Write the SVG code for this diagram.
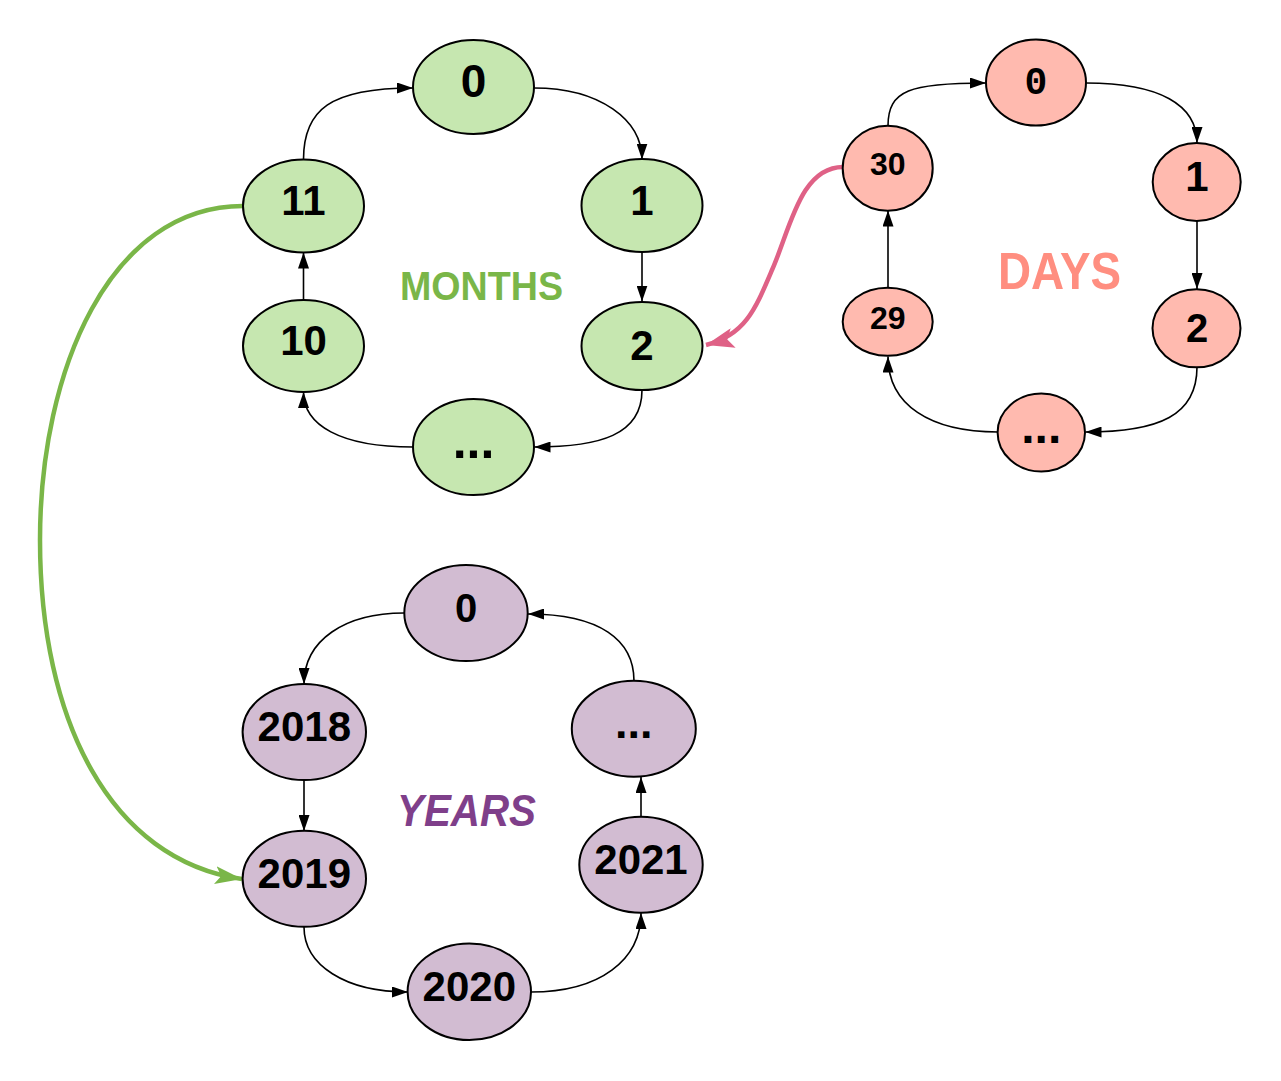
<svg xmlns="http://www.w3.org/2000/svg" width="1281" height="1081" viewBox="0 0 1281 1081">
<defs>
<style>
.n{stroke:#000;stroke-width:2}
.m{fill:#c6e7b0}
.d{fill:#ffbaaf}
.y{fill:#d2bcd2}
.t{font-family:"Liberation Sans",Arial,sans-serif;font-weight:bold;fill:#000;text-anchor:middle}
.e{fill:none;stroke:#000;stroke-width:1.6}
.lbl{font-family:"Liberation Sans",Arial,sans-serif;font-weight:bold}
</style>
<marker id="ab" markerUnits="userSpaceOnUse" markerWidth="16" markerHeight="11" refX="16" refY="5.5" orient="auto">
<path d="M0,0 L16,5.5 L0,11 z" fill="#000"/>
</marker>
<marker id="ag" markerUnits="userSpaceOnUse" markerWidth="27" markerHeight="18" refX="27" refY="9" orient="auto">
<path d="M0,0 L27,9 L0,18 L6,9 z" fill="#7ab648"/>
</marker>
<marker id="ap" markerUnits="userSpaceOnUse" markerWidth="28" markerHeight="20" refX="28" refY="10" orient="auto">
<path d="M0,0 L28,10 L0,20 L6,10 z" fill="#df6186"/>
</marker>
</defs>
<rect width="1281" height="1081" fill="#fff"/>

<g id="connectors">
<path class="e" marker-end="url(#ab)" d="M303.5,159.5 C303.5,110 330,88 413,88"/>
<path class="e" marker-end="url(#ab)" d="M534,88 C600,88 642,120 642,159.5"/>
<path class="e" marker-end="url(#ab)" d="M642,252 L642,301.5"/>
<path class="e" marker-end="url(#ab)" d="M642,390 C642,435 600,447 534.5,447"/>
<path class="e" marker-end="url(#ab)" d="M413,447 C340,447 303.5,425 303.5,392"/>
<path class="e" marker-end="url(#ab)" d="M303.5,300 L303.5,252.5"/>

<path class="e" marker-end="url(#ab)" d="M888,126 C888,90 910,83 986,83"/>
<path class="e" marker-end="url(#ab)" d="M1086,83 C1160,83 1197,105 1197,143"/>
<path class="e" marker-end="url(#ab)" d="M1197,221 L1197,289"/>
<path class="e" marker-end="url(#ab)" d="M1197,367 C1197,415 1160,432 1085.5,432"/>
<path class="e" marker-end="url(#ab)" d="M998,432 C930,432 888,405 888,356.5"/>
<path class="e" marker-end="url(#ab)" d="M888,288 L888,210.5"/>

<path class="e" marker-end="url(#ab)" d="M404,613 C345,613 304,640 304,684"/>
<path class="e" marker-end="url(#ab)" d="M304,780 L304,831"/>
<path class="e" marker-end="url(#ab)" d="M304,927 C304,965 345,992 408,992"/>
<path class="e" marker-end="url(#ab)" d="M531,992 C600,992 641,960 641,913"/>
<path class="e" marker-end="url(#ab)" d="M641,817 L641,777"/>
<path class="e" marker-end="url(#ab)" d="M634,681 C634,640 600,614 528,614"/>

<path fill="none" stroke="#7ab648" stroke-width="4.5" marker-end="url(#ag)" d="M243,206 C110,206 40,370 40,540 C40,720 110,860 242,879"/>
<path fill="none" stroke="#df6186" stroke-width="4.5" marker-end="url(#ap)" d="M843,167 C800,167 790,230 772,270 C755,310 745,335 706,345"/>
</g>

<g id="m0"><ellipse class="n m" cx="473.5" cy="87" rx="60.5" ry="47"/><text class="t" x="473.5" y="97" font-size="46">0</text></g>
<g id="m1"><ellipse class="n m" cx="642" cy="205.5" rx="60.5" ry="46.5"/><text class="t" x="642" y="215" font-size="42">1</text></g>
<g id="m2"><ellipse class="n m" cx="642" cy="346" rx="60.5" ry="44"/><text class="t" x="642" y="360" font-size="42">2</text></g>
<g id="mdots"><ellipse class="n m" cx="473.5" cy="447" rx="60.5" ry="48"/><text class="t" x="473.5" y="458" font-size="50">...</text></g>
<g id="m10"><ellipse class="n m" cx="303.5" cy="346" rx="60.5" ry="46"/><text class="t" x="303.5" y="355" font-size="42">10</text></g>
<g id="m11"><ellipse class="n m" cx="303.5" cy="206" rx="60.5" ry="46.5"/><text class="t" x="303.5" y="215" font-size="42">11</text></g>
<g id="months-label"><text class="lbl" x="400" y="300" font-size="40" fill="#7ab648" textLength="163" lengthAdjust="spacingAndGlyphs">MONTHS</text></g>

<g id="d0"><ellipse class="n d" cx="1036" cy="82.5" rx="50" ry="43"/><text x="1036" y="94" font-size="38" font-family="'Liberation Mono','DejaVu Sans Mono',monospace" font-weight="bold" text-anchor="middle">0</text></g>
<g id="d1"><ellipse class="n d" cx="1196.7" cy="182" rx="44" ry="39"/><text class="t" x="1197" y="191" font-size="42">1</text></g>
<g id="d2"><ellipse class="n d" cx="1196.5" cy="328.3" rx="44" ry="39"/><text class="t" x="1197" y="341.5" font-size="40">2</text></g>
<g id="ddots"><ellipse class="n d" cx="1041.3" cy="432.5" rx="43.7" ry="39"/><text class="t" x="1041.3" y="443" font-size="48">...</text></g>
<g id="d29"><ellipse class="n d" cx="887.7" cy="321.8" rx="45" ry="34"/><text class="t" x="887.7" y="329" font-size="32">29</text></g>
<g id="d30"><ellipse class="n d" cx="887.7" cy="168.2" rx="45" ry="42.5"/><text class="t" x="887.7" y="175" font-size="32">30</text></g>
<g id="days-label"><text class="lbl" x="998" y="289" font-size="52" fill="#ff8e80" textLength="123" lengthAdjust="spacingAndGlyphs">DAYS</text></g>

<g id="y0"><ellipse class="n y" cx="466" cy="613" rx="61.7" ry="48"/><text class="t" x="466" y="621.5" font-size="40">0</text></g>
<g id="y2018"><ellipse class="n y" cx="304.3" cy="732" rx="61.7" ry="48"/><text class="t" x="304.3" y="741" font-size="42">2018</text></g>
<g id="y2019"><ellipse class="n y" cx="304.3" cy="878.8" rx="61.7" ry="48"/><text class="t" x="304.3" y="887.7" font-size="42">2019</text></g>
<g id="y2020"><ellipse class="n y" cx="469.3" cy="991.7" rx="61.7" ry="48.3"/><text class="t" x="469.3" y="1000.7" font-size="42">2020</text></g>
<g id="y2021"><ellipse class="n y" cx="641" cy="864.7" rx="61.7" ry="48"/><text class="t" x="641" y="874.3" font-size="42">2021</text></g>
<g id="ydots"><ellipse class="n y" cx="633.8" cy="728.8" rx="62" ry="48"/><text class="t" x="633.8" y="738" font-size="45">...</text></g>
<g id="years-label"><text class="lbl" x="397" y="826" font-size="44" font-style="italic" fill="#7f3f8a" textLength="139" lengthAdjust="spacingAndGlyphs">YEARS</text></g>
</svg>
